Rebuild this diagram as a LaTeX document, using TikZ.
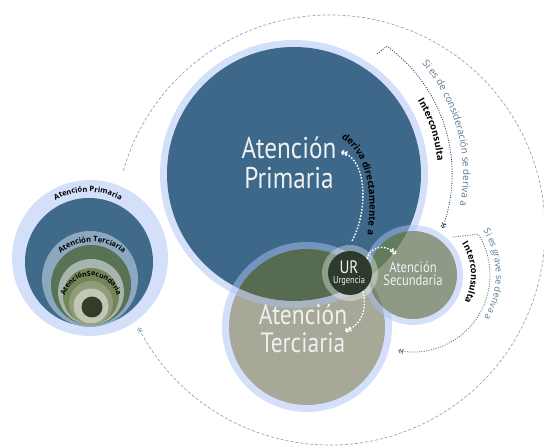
\documentclass[tikz,border=0pt]{standalone}
\usepackage{fontspec}
\usepackage{tikz}
\usetikzlibrary{arrows.meta, decorations.text, positioning}

\newfontfamily\labelfont[FakeStretch=0.84]{PT Sans}
\newfontfamily\notefont{Open Sans}
\newcommand\notebold{\notefont\bfseries\fontsize{9.5}{11}\selectfont}
\newcommand\noteboldsm{\notefont\bfseries\fontsize{9}{11}\selectfont}
\newcommand\noteplain{\notefont\fontsize{9}{11}\selectfont}
\newcommand\noteplainbig{\notefont\fontsize{9.8}{11}\selectfont}
\newcommand\nestbold{\notefont\bfseries\fontsize{7.5}{9}\selectfont}
\newcommand\nestsmall{\notefont\bfseries\fontsize{7}{8}\selectfont}

\definecolor{halo}{HTML}{A9C1F5}
\definecolor{primblue}{HTML}{3E6889}
\definecolor{tercolive}{HTML}{A7A897}
\definecolor{tercgreen}{HTML}{566B4F}
\definecolor{secugray}{HTML}{8E9A86}
\definecolor{secugreen}{HTML}{617C5A}
\definecolor{secuolive}{HTML}{7F8569}
\definecolor{urdark}{HTML}{2D3A2C}
\definecolor{labelwhite}{HTML}{EEF1EF}
\definecolor{notenavy}{HTML}{2D3D5E}
\definecolor{notesage}{HTML}{587468}
\definecolor{siblue}{HTML}{58778F}
\definecolor{outerblue}{HTML}{8AA7C6}
\definecolor{nestblue}{HTML}{3F6A8A}
\definecolor{nesthalo}{HTML}{8BA8C0}
\definecolor{nestgreen}{HTML}{587253}
\definecolor{nestring}{HTML}{A6B5AE}
\definecolor{nestsecu}{HTML}{728659}
\definecolor{nestmid}{HTML}{8F9C7A}
\definecolor{nestlight}{HTML}{C1C7B4}
\definecolor{nestdark}{HTML}{323C29}

\begin{document}
\begin{tikzpicture}[x=1pt, y=-1pt,
  halofill/.style={fill=halo, fill opacity=0.5},
  disk/.style={circle, inner sep=0pt, minimum size=#1},
  biglabel/.style={text=labelwhite, align=center, inner sep=0pt},
  chev/.style={-{Straight Barb[length=1.8pt,width=4.5pt] Straight Barb[length=1.8pt,width=4.5pt]}},
  wdots/.style={draw=white, line width=1.4pt, dash pattern=on 1.6pt off 1.6pt},
  icnavy/.style={draw=notenavy, line width=0.8pt, dash pattern=on 1pt off 1.4pt},
  icsage/.style={draw=notesage, line width=0.8pt, dash pattern=on 1pt off 1.4pt},
  outerdash/.style={draw=outerblue, line width=0.7pt, dash pattern=on 3pt off 2pt},
  curved/.style={decorate, decoration={text along path, text align=center, text={#1}}}]
\useasboundingbox (0,0) rectangle (544,446);

\coordinate (hub) at (330,230);
\draw[outerdash, chev] ([shift={(196:215)}]hub) arc[start angle=196, end angle=513, radius=215];

% nested circles on the left
\fill[halofill] (90,258) circle[radius=78];
\fill[nestblue] (89,262) circle[radius=64];
\fill[nesthalo] (90,279) circle[radius=48];
\fill[nestgreen] (91,285) circle[radius=40];
\fill[nestring] (91,292) circle[radius=33];
\fill[nestsecu] (91,296) circle[radius=28];
\fill[nestmid] (91,303) circle[radius=22];
\fill[nestlight] (91,306) circle[radius=17.5];
\fill[nestdark] (92,307) circle[radius=10.5];
\path[curved={|\nestbold|Atención Primaria}] (88,261) ++(200:69) arc[start angle=200, end angle=340, radius=69];
\path[curved={|\nestbold|Atención Terciaria}] (92,290) ++(195:48) arc[start angle=195, end angle=345, radius=48];
\path[curved={|\nestsmall|AtenciónSecundaria}] (91,303) ++(165:27) arc[start angle=165, end angle=375, radius=27];

% main circles
\fill[halofill] (294,174) circle[radius=134];
\node[disk=254pt, fill=primblue] (prim) at (294,174) {};
\fill[halofill] (307,327) circle[radius=85];
\node[disk=156pt, fill=tercolive] (terc) at (307,327) {};
\begin{scope}
  \clip (prim.center) circle[radius=127];
  \fill[tercgreen] (terc.center) circle[radius=78];
\end{scope}
\begin{scope}
  \clip (terc.center) circle[radius=78];
  \fill[halofill, even odd rule] (prim.center) circle[radius=134] circle[radius=127];
\end{scope}
\fill[halofill] (413,275) circle[radius=50];
\node[disk=88pt, fill=secugray] (secu) at (413,275) {};
\begin{scope}
  \clip (secu.center) circle[radius=44];
  \fill[secuolive] (terc.center) circle[radius=78];
  \fill[secugreen] (prim.center) circle[radius=127];
\end{scope}
\fill[white, fill opacity=0.35] (350,273) circle[radius=28];
\node[disk=44pt, fill=urdark] (ur) at (350,273) {};

% labels
\node[biglabel, font=\labelfont\fontsize{30}{30}\selectfont] (primtext) at (289,163) {Atención\\Primaria};
\node[biglabel, font=\labelfont\fontsize{28}{28}\selectfont] (terctext) at (303,329) {Atención\\Terciaria};
\node[biglabel, font=\labelfont\fontsize{15}{13}\selectfont] (secutext) at (413,274) {Atención\\Secundaria};
\node[biglabel, font=\labelfont\fontsize{18}{18}\selectfont] (urtext) at (349,267) {UR};
\node[biglabel, font=\labelfont\fontsize{10}{10}\selectfont, below=3pt of urtext] (urgtext) {Urgencia};

% white arrows out of UR
\coordinate (derivaend) at (341,152);
\coordinate (secuarr) at (396,254);
\coordinate (tercarr) at (345,331);
\draw[wdots, chev] ([shift={(2,-10)}]ur.north) .. controls (367,215) and (369,160) .. (derivaend);
\draw[wdots, chev] (ur.40) .. controls (370,247) and (384,243) .. (secuarr);
\draw[wdots, chev] (ur.-55) .. controls (367,305) and (364,324) .. (tercarr);
\path[curved={|\notebold|deriva directamente a}] (329,133) .. controls (373,146) and (374,205) .. (365,248);

% interconsultas
\coordinate (ic1start) at (377,54);
\coordinate (ic2start) at (453,237);
\draw[icnavy, chev] (ic1start) -- ([shift={(-54:158)}]prim.center) arc[start angle=-54, end angle=20, radius=158];
\draw[icsage, chev] (ic2start) -- ([shift={(-32:77)}]secu.center) arc[start angle=-32, end angle=101, radius=77];
\path[curved={|\notebold|Interconsulta}] ([shift={(-48:144)}]prim.center) arc[start angle=-48, end angle=12, radius=144];
\path[curved={|\noteplainbig|Si es de consideración se deriva a}, decoration={text color=siblue}] ([shift={(-60:169)}]prim.center) arc[start angle=-60, end angle=30, radius=169];
\path[curved={|\noteboldsm|Interconsulta}] ([shift={(-64:58)}]secu.center) arc[start angle=-64, end angle=59, radius=58];
\path[curved={|\noteplain|Si es grave se deriva a}, decoration={text color=siblue}] ([shift={(-62:83)}]secu.center) arc[start angle=-62, end angle=61, radius=83];
\end{tikzpicture}
\end{document}
